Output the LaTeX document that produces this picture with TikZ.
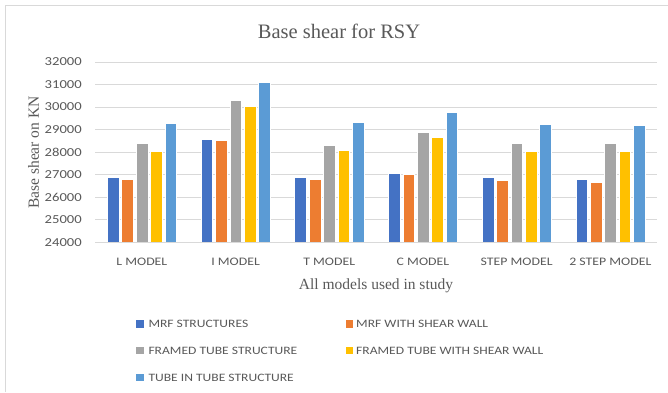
\documentclass[tikz,border=0pt]{standalone}
\usepackage{fontspec}
\setmainfont{Liberation Serif}
\newfontfamily\chartsans[FakeStretch=1.2]{Carlito}
\definecolor{txtgray}{HTML}{595959}
\definecolor{gridgray}{HTML}{D9D9D9}
\definecolor{series0}{HTML}{4472C4}
\definecolor{series1}{HTML}{ED7D31}
\definecolor{series2}{HTML}{A5A5A5}
\definecolor{series3}{HTML}{FFC000}
\definecolor{series4}{HTML}{5B9BD5}
\begin{document}
\begin{tikzpicture}[x=1pt,y=1pt,
  bar/.style={draw=white, line width=0.5pt},
  gridline/.style={draw=gridgray, line width=0.9pt},
  ticklab/.style={font=\chartsans\fontsize{12.2}{14}\selectfont, text=txtgray, anchor=east, inner sep=0pt},
  catlab/.style={font=\chartsans\fontsize{11.5}{14}\selectfont, text=txtgray, anchor=base, inner sep=0pt},
  leglab/.style={font=\chartsans\fontsize{11.3}{14}\selectfont, text=txtgray, anchor=base west, inner sep=0pt},
  legkey/.style={minimum size=7.5pt, inner sep=0pt, draw=none},
  axtitle/.style={font=\fontsize{15.5}{18}\selectfont, text=txtgray, anchor=base, inner sep=0pt}]
\useasboundingbox (0,0) rectangle (668,392);
\fill[white] (0,0) rectangle (668,392);
% chart frame
\draw[gridgray, line width=0.8pt] (5,0) -- (5,386.3) -- (668,386.3);

% title
\node[font=\fontsize{20.5}{24}\selectfont, text=txtgray, anchor=base, inner sep=0pt] (title) at (339,353.7) {Base shear for RSY};

% horizontal gridlines and value labels
\foreach \g in {0,...,8}{
  \pgfmathsetmacro\gy{149.7+\g*22.54}
  \edef\lab{\the\numexpr24000+1000*\g\relax}
  \draw[gridline] (95,\gy) -- (657,\gy);
  \node[ticklab] (tick\g) at (82,\gy) {\lab};
}

% clustered bars (values measured above the 24000 baseline)
\foreach \i/\vals in {
  0/{2866,2795,4374,4050,5293},
  1/{4570,4550,6300,6047,7112},
  2/{2866,2808,4303,4082,5324},
  3/{3075,3017,4894,4672,5767},
  4/{2866,2751,4374,4050,5235},
  5/{2795,2675,4393,4035,5204}}{
  \foreach \v [count=\k from 0] in \vals {
    \pgfmathsetmacro\xl{95+93.7*\i+12.3+14.4*\k}
    \pgfmathsetmacro\xr{\xl+11.7}
    \pgfmathsetmacro\yt{149.7+\v*0.02254}
    \path[bar, fill=series\k] (\xl,149.7) rectangle (\xr,\yt);
  }
}
% category axis line
\draw[gridline] (95,149.7) -- (657,149.7);

% category labels
\foreach \i/\name in {0/L MODEL,1/I MODEL,2/T MODEL,3/C MODEL,4/STEP MODEL,5/2 STEP MODEL}{
  \node[catlab] (cat\i) at ({141.85+93.7*\i},127) {\name};
}

% axis titles
\node[axtitle] (xtitle) at (376,102.7) {All models used in study};
\node[axtitle, rotate=90] (ytitle) at (39,239.5) {Base shear on KN};

% legend
\node[legkey, fill=series0] (key0) at (139.8,68.2) {};
\node[leglab] (leg0) at (148.3,64.5) {MRF STRUCTURES};
\node[legkey, fill=series1] (key1) at (349.7,68.2) {};
\node[leglab] (leg1) at (356,64.5) {MRF WITH SHEAR WALL};
\node[legkey, fill=series2] (key2) at (139.8,41.7) {};
\node[leglab] (leg2) at (148.3,38) {FRAMED TUBE STRUCTURE};
\node[legkey, fill=series3] (key3) at (349.7,41.7) {};
\node[leglab] (leg3) at (356,38) {FRAMED TUBE WITH SHEAR WALL};
\node[legkey, fill=series4] (key4) at (139.8,14.7) {};
\node[leglab] (leg4) at (148.3,11) {TUBE IN TUBE STRUCTURE};
\end{tikzpicture}
\end{document}
